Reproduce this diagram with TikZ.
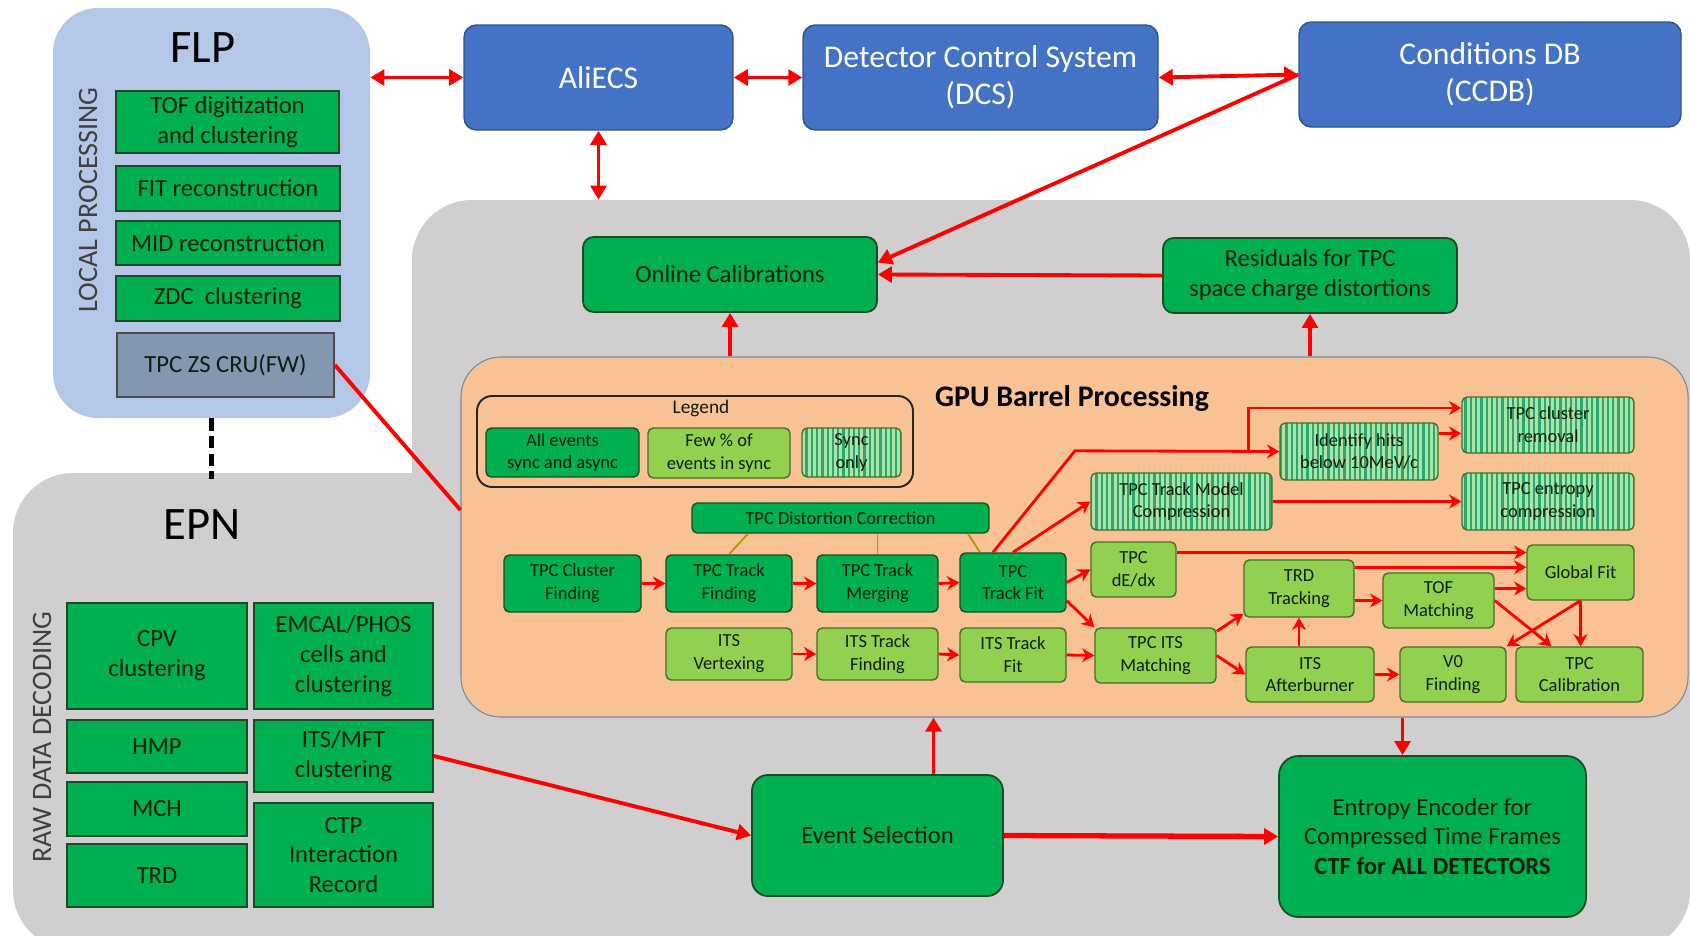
\documentclass[tikz,border=0pt]{standalone}
\usepackage{fontspec}
\setmainfont{Carlito}
\usepackage{tikz}
\usetikzlibrary{arrows.meta,patterns.meta}
\definecolor{flpblue}{RGB}{180,199,231}
\definecolor{boxblue}{RGB}{68,114,196}
\definecolor{blueedge}{RGB}{47,82,143}
\definecolor{dkgreen}{RGB}{0,176,80}
\definecolor{dkedge}{RGB}{25,75,40}
\definecolor{ltgreen}{RGB}{146,208,80}
\definecolor{ltedge}{RGB}{70,110,40}
\definecolor{syncbg}{RGB}{175,225,170}
\definecolor{syncline}{RGB}{40,170,110}
\definecolor{regiongray}{RGB}{208,206,206}
\definecolor{peach}{RGB}{249,194,148}
\definecolor{peachedge}{RGB}{110,140,165}
\definecolor{zsgray}{RGB}{132,151,176}
\definecolor{ochre}{RGB}{191,144,0}
\definecolor{txt}{RGB}{15,30,15}
\newcommand{\gpufont}{\fontsize{10.5}{13}\selectfont}
\newcommand{\boxfont}{\fontsize{14}{17}\selectfont}
\newcommand{\bluefont}{\fontsize{18}{21}\selectfont}
\newcommand{\headfont}{\fontsize{26.5}{30}\selectfont}
\newcommand{\sidefont}{\fontsize{16}{19}\selectfont}
\newcommand{\titlefont}{\fontsize{17}{20}\selectfont\bfseries}
\tikzset{>/.tip={Triangle[length=8pt,width=9pt]},
  wh/.style 2 args={minimum width=#1*0.2mm, minimum height=#2*0.2mm},
  cell/.style={inner sep=0pt, align=center, text=txt},
  region/.style={fill=regiongray, rounded corners=12mm, inner sep=0pt},
  flpbox/.style={cell, fill=dkgreen, draw=dkedge, line width=1pt, font=\boxfont},
  bluebox/.style={cell, fill=boxblue, draw=blueedge, line width=0.8pt, rounded corners=7pt, text=white, font=\bluefont},
  calbox/.style={flpbox, rounded corners=6pt},
  allev/.style={cell, fill=dkgreen, draw=dkedge, line width=0.8pt, rounded corners=3pt, font=\gpufont},
  fewev/.style={allev, fill=ltgreen, draw=ltedge},
  synconly/.style={allev, draw=ltedge, preaction={fill=syncbg}, pattern={Lines[angle=90,distance=3pt,line width=1.3pt]}, pattern color=syncline},
  link/.style={draw=red, line width=2.2pt},
  garr/.style={draw=red, line width=1.6pt, -{Stealth[length=7pt,width=8pt]}},
  dlink/.style={draw=ochre, line width=1pt}}
\begin{document}
\begin{tikzpicture}[x=0.2mm, y=-0.2mm]
\useasboundingbox (0,0) rectangle (1690,935);
\fill[white] (0,0) rectangle (1690,935);
\begin{scope}
\clip (0,0) rectangle (1690,935);
\node[region, wh={1278}{750}] (core) at (1051,575) {};
\node[region, wh={1677}{477}] (epn) at (851.5,711.5) {};
\end{scope}
\node[fill=flpblue, rounded corners=9mm, inner sep=0pt, wh={317}{410}] (flp) at (211.5,213) {};
\node[fill=peach, draw=peachedge, line width=0.6pt, rounded corners=8mm, inner sep=0pt, wh={1227}{360}] (gpu) at (1074.5,537) {};

\node[cell, font=\headfont, text=black] (flplabel) at (203,48) {FLP};
\node[cell, font=\sidefont, text=black!75, rotate=90] (local) at (88,200) {LOCAL PROCESSING};
\node[flpbox, wh={223}{62}] (tof) at (227.5,122) {TOF digitization\\and clustering};
\node[flpbox, wh={224}{45}] (fit) at (228,188.5) {FIT reconstruction};
\node[flpbox, wh={224}{44}] (mid) at (228,243) {MID reconstruction};
\node[flpbox, wh={224}{45}] (zdc) at (228,298.5) {ZDC\ \ clustering};
\node[flpbox, fill=zsgray, draw=black!70, wh={217}{64}] (tpczs) at (225.5,365) {TPC ZS CRU(FW)};

\node[bluebox, wh={269}{105}] (aliecs) at (598.5,77.5) {AliECS};
\node[bluebox, wh={355}{105}] (dcs) at (980.5,77.5) {Detector Control System\\(DCS)};
\node[bluebox, wh={382}{105}] (ccdb) at (1490,74.5) {Conditions DB\\(CCDB)};

\node[calbox, wh={294}{75}] (onlcal) at (730,274.5) {Online Calibrations};
\node[calbox, wh={294}{75}] (resid) at (1310,275.5) {Residuals for TPC\\space charge distortions};

\node[cell, font=\headfont, text=black] (epnlabel) at (202,525) {EPN};
\node[cell, font=\sidefont, text=black!75, rotate=90] (rawdec) at (42,737) {RAW DATA DECODING};
\node[flpbox, wh={180}{106}] (cpv) at (157,656) {CPV\\clustering};
\node[flpbox, wh={179}{106}] (emcal) at (343.5,656) {EMCAL/PHOS\\cells and\\clustering};
\node[flpbox, wh={180}{53}] (hmp) at (157,746.5) {HMP};
\node[flpbox, wh={180}{54}] (mch) at (157,809) {MCH};
\node[flpbox, wh={180}{63}] (trd) at (157,875.5) {TRD};
\node[flpbox, wh={179}{72}] (itsmft) at (343.5,756) {ITS/MFT\\clustering};
\node[flpbox, wh={179}{104}] (ctp) at (343.5,855) {CTP\\Interaction\\Record};

\node[calbox, rounded corners=9pt, wh={251}{121}] (evsel) at (877.5,835.5) {Event Selection};
\node[calbox, rounded corners=11pt, wh={307}{161}] (entropy) at (1432.5,836.5) {Entropy Encoder for\\Compressed Time Frames\\\textbf{CTF for ALL DETECTORS}};

\node[cell, font=\titlefont, text=black] (gputitle) at (1072,399) {GPU Barrel Processing};
\node[draw=black!85, line width=1.1pt, rounded corners=3mm, inner sep=0pt, wh={436}{91}] (legend) at (695,441.5) {};
\node[cell, font=\fontsize{11}{13}\selectfont] (legtitle) at (701,408) {Legend};
\node[allev, wh={153}{49}] (legall) at (562.5,452.5) {All events\\sync and async};
\node[fewev, wh={142}{50}] (legfew) at (719,453) {Few \% of\\events in sync};
\node[synconly, wh={99}{49}] (legsync) at (851.5,452.5) {Sync\\only};

\node[allev, wh={297}{30}] (dist) at (840.5,518) {TPC Distortion Correction};
\node[allev, wh={137}{57}] (tcf) at (572.5,583.5) {TPC Cluster\\Finding};
\node[allev, wh={126}{57}] (ttfind) at (729,583.5) {TPC Track\\Finding};
\node[allev, wh={121}{57}] (tmerge) at (877.5,583.5) {TPC Track\\Merging};
\node[allev, wh={106}{59}] (tfit) at (1013,582.5) {TPC\\Track Fit};
\node[fewev, wh={126}{52}] (itsvtx) at (729,654) {ITS\\Vertexing};
\node[fewev, wh={121}{52}] (itsfind) at (877.5,654) {ITS Track\\Finding};
\node[fewev, wh={106}{54}] (itsfit) at (1013,655) {ITS Track\\Fit};
\node[synconly, wh={181}{57}] (tmc) at (1181.5,501.5) {TPC Track Model\\Compression};
\node[synconly, wh={158}{57}] (idhits) at (1359,451.5) {Identify hits\\below 10MeV/c};
\node[synconly, wh={172}{56}] (clrem) at (1548,425) {TPC cluster\\removal};
\node[synconly, wh={172}{57}] (entc) at (1548,501.5) {TPC entropy\\compression};
\node[fewev, wh={85}{55}] (dedx) at (1133.5,569.5) {TPC\\dE/dx};
\node[fewev, wh={110}{57}] (trdtr) at (1299,588.5) {TRD\\Tracking};
\node[fewev, wh={111}{55}] (tofm) at (1438.5,600.5) {TOF\\Matching};
\node[fewev, wh={107}{55}] (glob) at (1580.5,572.5) {Global Fit};
\node[fewev, wh={121}{55}] (tpcits) at (1155.5,655.5) {TPC ITS\\Matching};
\node[fewev, wh={128}{55}] (itsab) at (1310,674.5) {ITS\\Afterburner};
\node[fewev, wh={106}{55}] (v0) at (1453,674.5) {V0\\Finding};
\node[fewev, wh={127}{55}] (tpccal) at (1579.5,674.5) {TPC\\Calibration};

\draw[link,<->] (aliecs.west -| flp.east) -- (aliecs.west);
\draw[link,<->] (aliecs.east) -- (dcs.west);
\draw[link,<->] (dcs.east) -- (ccdb.west);
\draw[link,->] (ccdb.west) -- ([shift={(0,-12)}]onlcal.east);
\draw[link,<->] (aliecs.south) -- (aliecs.south |- core.north);
\draw[link,->] (resid.west) -- (onlcal.east);
\draw[link,->] (onlcal.south |- gpu.north) -- (onlcal.south);
\draw[link,->] (resid.south |- gpu.north) -- (resid.south);
\draw[link] (tpczs.east) -- (gpu.west |- 0,510);
\draw[line width=3.4pt, dash pattern=on 7pt off 3pt] (flp.south) -- ([shift={(0,6)}]flp.south |- epn.north);
\draw[link,->] (itsmft.east) -- (evsel.west);
\draw[link,->] ([shift={(56,0)}]evsel.north) -- ([shift={(56,0)}]evsel.north |- gpu.south);
\draw[link,->,line width=3pt] (evsel.east) -- (entropy.west);
\draw[link,->] ([shift={(-30,0)}]entropy.north |- gpu.south) -- ([shift={(-30,0)}]entropy.north);

\foreach \a/\b in {tcf/ttfind, ttfind/tmerge, tmerge/tfit, itsvtx/itsfind, itsfind/itsfit, itsfit/tpcits, tmc/entc, itsab/v0}
{
  \draw[garr] (\a.east) -- (\b.west);
}
\draw[dlink] (ttfind.north) -- ([shift={(19,0)}]ttfind.north |- dist.south);
\draw[dlink] (tmerge.north) -- (tmerge.north |- dist.south);
\draw[dlink] ([shift={(-33,0)}]tfit.north) -- ([shift={(-45,0)}]tfit.north |- dist.south);
\draw[garr] ([shift={(-20,0)}]tfit.north) -- ++(82,-101.5) -- (idhits.west);
\coordinate (split) at ([shift={(-31,0)}]idhits.west);
\draw[garr] (split) |- ([shift={(0,-17)}]clrem.west);
\draw[garr] ([shift={(0,-18)}]idhits.east) -- ([shift={(0,-18)}]idhits.east -| clrem.west);
\draw[garr] (tfit.north) -- (tmc.west);
\draw[garr] (tfit.east) -- (dedx.west);
\draw[garr] ([shift={(0,-12)}]tfit.south east) -- (tpcits.north west);
\draw[garr] ([shift={(0,-17)}]dedx.east) -- ([shift={(0,-17)}]dedx.east -| glob.west);
\draw[garr] ([shift={(0,8)}]trdtr.north east) -- ([shift={(0,8)}]trdtr.north east -| glob.west);
\draw[garr] (trdtr.east |- tofm.west) -- (tofm.west);
\draw[garr] ([shift={(0,-12)}]tofm.east) -- ([shift={(0,-12)}]tofm.east -| glob.west);
\draw[garr] (tofm.east) -- ([shift={(-28,0)}]tpccal.north);
\draw[garr] (glob.south) -- (v0.north east);
\draw[garr] (glob.south) -- (glob.south |- tpccal.north);
\draw[garr] ([shift={(0,4)}]tpcits.north east) -- ([shift={(0,-4)}]trdtr.south west);
\draw[garr] (tpcits.east) -- (itsab.west);
\draw[garr] (itsab.north -| trdtr.south) -- (trdtr.south);
\end{tikzpicture}
\end{document}
